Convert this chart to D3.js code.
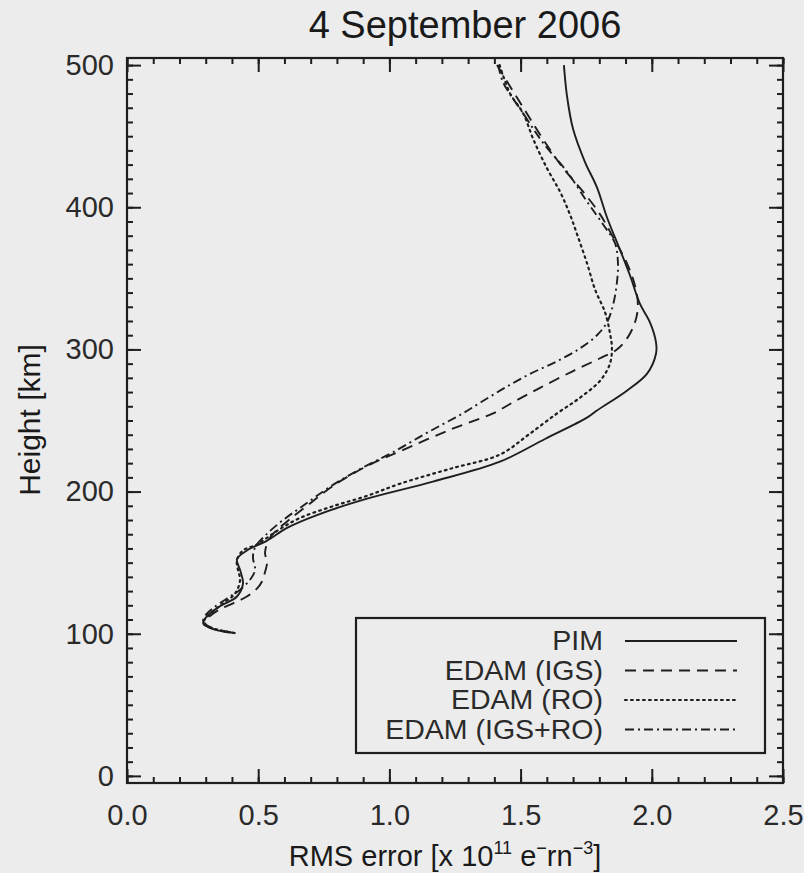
<!DOCTYPE html>
<html>
<head>
<meta charset="utf-8">
<script src="https://cdn.jsdelivr.net/npm/d3@7/dist/d3.min.js"></script>
<style>
  html, body { margin: 0; padding: 0; background: #ececec; }
  svg { display: block; }
  text { font-family: "Liberation Sans", Arial, Helvetica, sans-serif; }
</style>
</head>
<body>
<svg id="chart" width="804" height="873"></svg>
<script>
// ---------------- DATA ----------------
const titleText = "4 September 2006";
const xTicksMajor = [0.0, 0.5, 1.0, 1.5, 2.0, 2.5];
const yTicksMajor = [0, 100, 200, 300, 400, 500];
const seriesNames = ["PIM", "EDAM (IGS)", "EDAM (RO)", "EDAM (IGS+RO)"];

// PIM (solid)
const pimKm  = [500, 478, 455, 432, 414, 393, 370, 352, 332, 319, 305, 297, 283, 271, 257, 252, 237, 221, 207, 195, 183.5, 174.5, 165.5, 158.6, 152.4, 144.8, 135.2, 126.2, 119.3, 112.4, 107.6, 104.1, 102, 100.5];
const pimRms = [1.665, 1.677, 1.70, 1.745, 1.791, 1.829, 1.879, 1.917, 1.955, 1.993, 2.016, 2.016, 1.982, 1.905, 1.791, 1.753, 1.593, 1.421, 1.166, 0.915, 0.724, 0.610, 0.534, 0.457, 0.419, 0.431, 0.442, 0.419, 0.354, 0.305, 0.290, 0.316, 0.354, 0.412];

// EDAM (IGS) (dashed)
const igsKm  = [500, 485, 466, 448, 427.6, 411, 395, 379, 360.7, 344.8, 331, 319, 307.6, 300, 293.8, 284.8, 273, 262.8, 255, 243.5, 228.3, 218, 204, 190, 179, 167.6, 157, 150.4, 143.4, 136.6, 131.7, 126.2, 121.4, 117.2, 112.4, 107.6, 104, 101.4, 100.5];
const igsRms = [1.41, 1.46, 1.524, 1.585, 1.662, 1.738, 1.803, 1.852, 1.905, 1.936, 1.947, 1.936, 1.905, 1.867, 1.803, 1.70, 1.574, 1.471, 1.395, 1.231, 1.040, 0.915, 0.785, 0.686, 0.610, 0.545, 0.526, 0.534, 0.526, 0.514, 0.495, 0.457, 0.404, 0.354, 0.316, 0.297, 0.324, 0.373, 0.41];

// EDAM (RO) (dotted)
const roKm  = [500, 480, 466, 448, 427.6, 411, 395, 379, 360.7, 342, 326, 312, 300.7, 289.7, 278, 266, 255, 240, 226, 216, 205.5, 197, 189.7, 181.4, 172.4, 162.8, 158.6, 151.7, 144.8, 138, 128.3, 121.4, 113.8, 107.6, 104, 100.5];
const roRms = [1.42, 1.46, 1.51, 1.548, 1.60, 1.65, 1.688, 1.719, 1.753, 1.784, 1.822, 1.84, 1.848, 1.84, 1.803, 1.726, 1.639, 1.53, 1.421, 1.231, 1.04, 0.915, 0.785, 0.659, 0.572, 0.495, 0.442, 0.419, 0.423, 0.431, 0.412, 0.366, 0.316, 0.29, 0.324, 0.41];

// EDAM (IGS+RO) (dash-dot)
const bothKm  = [500, 488, 466, 445.5, 425, 404, 388, 374.5, 360.7, 347, 331, 319, 310, 300.7, 291.7, 282.8, 273, 263, 255, 248, 240, 228.3, 217, 203.4, 190, 180, 169, 160.7, 153.8, 144.8, 138, 131, 124.8, 118, 112.4, 107.6, 104, 100.5];
const bothRms = [1.415, 1.433, 1.51, 1.585, 1.677, 1.753, 1.814, 1.86, 1.871, 1.867, 1.852, 1.829, 1.791, 1.726, 1.639, 1.536, 1.44, 1.35, 1.28, 1.21, 1.13, 1.02, 0.90, 0.774, 0.671, 0.595, 0.526, 0.488, 0.480, 0.488, 0.469, 0.431, 0.381, 0.328, 0.297, 0.290, 0.324, 0.41];

// ---------------- LAYOUT ----------------
const W = 804, H = 873;
const plot = { left: 127, right: 783, top: 58, bottom: 783 };
const ink = "#1e1e1e";
const styles = [
  { dash: null },
  { dash: "11,7" },
  { dash: "1.8,4.2" },
  { dash: "9,4,2,4" }
];

const svg = d3.select("#chart");
svg.append("rect").attr("width", W).attr("height", H).attr("fill", "#ececec");

const x = d3.scaleLinear().domain([0, 2.5]).range([plot.left, plot.right]);
const y = d3.scaleLinear().domain([-5, 505]).range([plot.bottom, plot.top]);

const xMinor = d3.range(0, 26).map(i => i / 10);
const yMinor = d3.range(0, 51).map(i => i * 10);

function styleAxis(g) {
  g.select(".domain").remove();
  g.selectAll("line").attr("stroke", ink).attr("stroke-width", 2);
  g.selectAll("text").attr("fill", "#2a2a2a").attr("font-size", 29);
}

// bottom
svg.append("g").attr("transform", `translate(0,${plot.bottom})`)
  .call(d3.axisBottom(x).tickValues(xMinor).tickSize(-6).tickFormat(""))
  .call(styleAxis);
svg.append("g").attr("transform", `translate(0,${plot.bottom})`)
  .call(d3.axisBottom(x).tickValues(xTicksMajor).tickSize(-14).tickPadding(21).tickFormat(d3.format(".1f")))
  .call(styleAxis);
// top
svg.append("g").attr("transform", `translate(0,${plot.top})`)
  .call(d3.axisTop(x).tickValues(xMinor).tickSize(-6).tickFormat(""))
  .call(styleAxis);
svg.append("g").attr("transform", `translate(0,${plot.top})`)
  .call(d3.axisTop(x).tickValues(xTicksMajor).tickSize(-14).tickFormat(""))
  .call(styleAxis);
// left
svg.append("g").attr("transform", `translate(${plot.left},0)`)
  .call(d3.axisLeft(y).tickValues(yMinor).tickSize(-6).tickFormat(""))
  .call(styleAxis);
svg.append("g").attr("transform", `translate(${plot.left},0)`)
  .call(d3.axisLeft(y).tickValues(yTicksMajor).tickSize(-14).tickPadding(13).tickFormat(d3.format("d")))
  .call(styleAxis);
// right
svg.append("g").attr("transform", `translate(${plot.right},0)`)
  .call(d3.axisRight(y).tickValues(yMinor).tickSize(-6).tickFormat(""))
  .call(styleAxis);
svg.append("g").attr("transform", `translate(${plot.right},0)`)
  .call(d3.axisRight(y).tickValues(yTicksMajor).tickSize(-14).tickFormat(""))
  .call(styleAxis);

// frame
svg.append("rect")
  .attr("x", plot.left).attr("y", plot.top)
  .attr("width", plot.right - plot.left).attr("height", plot.bottom - plot.top)
  .attr("fill", "none").attr("stroke", ink).attr("stroke-width", 2.2);

// curves
const series = [
  { km: pimKm, rms: pimRms },
  { km: igsKm, rms: igsRms },
  { km: roKm, rms: roRms },
  { km: bothKm, rms: bothRms }
];
const line = d3.line().x(d => x(d[0])).y(d => y(d[1])).curve(d3.curveCatmullRom.alpha(0.5));
series.forEach((s, i) => {
  const pts = s.km.map((k, j) => [s.rms[j], k]);
  svg.append("path").datum(pts)
    .attr("d", line)
    .attr("fill", "none")
    .attr("stroke", ink)
    .attr("stroke-width", i === 2 ? 2.2 : 1.9)
    .attr("stroke-linecap", i === 2 ? "round" : "butt")
    .attr("stroke-dasharray", styles[i].dash);
});

// legend
const lg = svg.append("g");
lg.append("rect").attr("x", 356).attr("y", 618).attr("width", 409).attr("height", 135)
  .attr("fill", "#ececec").attr("stroke", ink).attr("stroke-width", 2.2);
seriesNames.forEach((name, i) => {
  const cy = 640 + i * 29.5;
  lg.append("text").attr("x", 603).attr("y", cy + 10)
    .attr("text-anchor", "end").attr("font-size", 28.5).attr("fill", "#2a2a2a").text(name);
  lg.append("line").attr("x1", 625).attr("x2", 737).attr("y1", cy + 1).attr("y2", cy + 1)
    .attr("stroke", ink).attr("stroke-width", i === 2 ? 2.2 : 1.9)
    .attr("stroke-linecap", i === 2 ? "round" : "butt")
    .attr("stroke-dasharray", styles[i].dash);
});

// title
svg.append("text").attr("x", 465).attr("y", 38).attr("text-anchor", "middle")
  .attr("font-size", 38).attr("fill", "#1a1a1a").text(titleText);

// x title
const xt = svg.append("text").attr("x", 445).attr("y", 866).attr("text-anchor", "middle")
  .attr("font-size", 29).attr("fill", "#1a1a1a");
xt.append("tspan").text("RMS error [x 10");
xt.append("tspan").attr("font-size", 18).attr("dy", -12).text("11");
xt.append("tspan").attr("dy", 12).text(" e");
xt.append("tspan").attr("font-size", 18).attr("dy", -12).text("\u2212");
xt.append("tspan").attr("dy", 12).text("rn");
xt.append("tspan").attr("font-size", 18).attr("dy", -12).text("\u22123");
xt.append("tspan").attr("dy", 12).text("]");

// y title
svg.append("text").attr("transform", "translate(40,420) rotate(-90)")
  .attr("text-anchor", "middle").attr("font-size", 30).attr("fill", "#1a1a1a")
  .text("Height [km]");
</script>
</body>
</html>
